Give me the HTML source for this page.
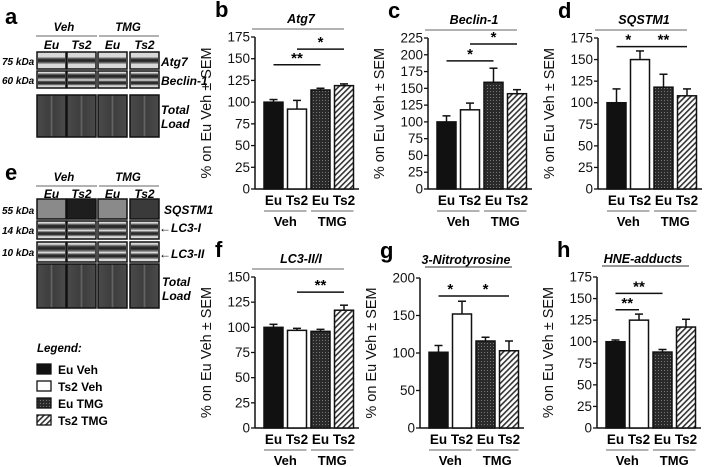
<!DOCTYPE html>
<html><head><meta charset="utf-8"><style>
html,body{margin:0;padding:0;background:#fff;}
svg{display:block;font-family:"Liberation Sans",Arial,sans-serif;}
</style></head><body>
<svg id="fig" width="708" height="467" viewBox="0 0 708 467" xmlns="http://www.w3.org/2000/svg">
<defs>
<pattern id="dots" width="3" height="3" patternUnits="userSpaceOnUse"><rect width="3" height="3" fill="#2a2a2a"/><rect x="1" y="1" width="1" height="1" fill="#777"/></pattern>
<pattern id="hatch" width="4" height="4" patternUnits="userSpaceOnUse" patternTransform="rotate(45)"><rect width="4" height="4" fill="#fff"/><rect width="1.6" height="4" fill="#333"/></pattern>
<linearGradient id="lane" x1="0" x2="1" y1="0" y2="0"><stop offset="0" stop-color="#4a4a4a"/><stop offset="0.45" stop-color="#3e3e3e"/><stop offset="0.5" stop-color="#6a6a6a"/><stop offset="0.55" stop-color="#3e3e3e"/><stop offset="1" stop-color="#4a4a4a"/></linearGradient>
<linearGradient id="band" x1="0" x2="0" y1="0" y2="1"><stop offset="0" stop-color="#bbb"/><stop offset="0.3" stop-color="#333"/><stop offset="0.6" stop-color="#222"/><stop offset="1" stop-color="#aaa"/></linearGradient>
</defs>
<g id="blots"></g>
<g id="charts"></g>
</svg>
<script>
// ---- chart data ----
const groups = ["Eu Veh","Ts2 Veh","Eu TMG","Ts2 TMG"];
const atg7Values = [100, 92, 114, 119];
const atg7Errors = [3, 10, 2, 2];
const beclinValues = [100, 118, 159, 142];
const beclinErrors = [9, 10, 21, 6];
const sqstmValues = [100, 150, 118, 108];
const sqstmErrors = [16, 10, 15, 8];
const lc3Values = [100, 97, 96, 117];
const lc3Errors = [3, 2, 2, 5];
const nitroValues = [101, 152, 116, 103];
const nitroErrors = [9, 17, 5, 13];
const hneValues = [100, 125, 88, 117];
const hneErrors = [2, 7, 3, 9];
const ticks175 = [0,25,50,75,100,125,150,175];
const ticks225 = [0,25,50,75,100,125,150,175,200,225];
const ticks150 = [0,25,50,75,100,125,150];
const ticks200 = [0,50,100,150,200];
const sigB = [[0,2,143,"**"],[1,3,161,"*"]];
const sigC = [[0,2,191,"*"],[1,3,216,"*"]];
const sigD = [[0,1,165,"*"],[1,3,165,"**"]];
const sigF = [[1,3,135,"**"]];
const sigG = [[0,1,176,"*"],[1,3,176,"*"]];
const sigH = [[0,1,137,"**"],[0,2,156,"**"]];

const NS="http://www.w3.org/2000/svg";
function mk(tag, attrs, parent, text){
  const e=document.createElementNS(NS,tag);
  for(const k in attrs) e.setAttribute(k, attrs[k]);
  if(text!==undefined) e.textContent=text;
  parent.appendChild(e); return e;
}
const fills=["#111","#fff","url(#dots)","url(#hatch)"];

function panel(letter, title, underlineTitle, ax, yTop, y0, ticks, vals, errs, sigs, name){
  const root=document.getElementById('charts');
  const g=mk('g',{},root);
  
  
  const max=ticks[ticks.length-1];
  const y=v=>y0-(v/max)*(y0-yTop);
  const bx=i=>ax+9+i*23.5;
  const bw=19;
  const L=mk('text',{x:ax-40,y:yTop-20,'font-size':22,'font-weight':'bold'},g,letter);
  
  
  const T=mk('text',{x:ax+46,y:yTop-14,'font-size':12.5,'font-weight':'bold','font-style':'italic','text-anchor':'middle'},g,title);
  
  
  if(underlineTitle){ mk('line',{x1:ax+5,x2:ax+92,y1:yTop-11,y2:yTop-11,stroke:'#333','stroke-width':1},g); }
  else { mk('line',{x1:ax-3,x2:ax+89,y1:yTop-8,y2:yTop-8,stroke:'#666','stroke-width':1},g); }
  const A=mk('line',{x1:ax,x2:ax,y1:yTop,y2:y0,stroke:'#111','stroke-width':1.5},g);
  
  
  mk('line',{x1:ax,x2:ax+104,y1:y0,y2:y0,stroke:'#111','stroke-width':1.5},g);
  ticks.forEach(t=>{
    mk('line',{x1:ax-4,x2:ax,y1:y(t),y2:y(t),stroke:'#111','stroke-width':1.3},g);
    const tl=mk('text',{x:ax-5,y:y(t)+4.5,'font-size':13.5,'text-anchor':'end',fill:'#111'},g,String(t));
    
    
  });
  const yt=mk('text',{transform:`translate(${ax-44},${(yTop+y0)/2}) rotate(-90)`,'font-size':14.5,'text-anchor':'middle',fill:'#111'},g,'% on Eu Veh \u00b1 SEM');
  
  
  vals.forEach((v,i)=>{
    const cx=bx(i)+bw/2;
    mk('line',{x1:cx,x2:cx,y1:y(v),y2:y(v+errs[i]),stroke:'#111','stroke-width':1.5},g);
    mk('line',{x1:cx-4,x2:cx+4,y1:y(v+errs[i]),y2:y(v+errs[i]),stroke:'#111','stroke-width':1.5},g);
    const b=mk('rect',{x:bx(i),y:y(v),width:bw,height:y0-y(v),fill:fills[i],stroke:'#111','stroke-width':1.5},g);
    
    
  });
  sigs.forEach(s=>{
    const x1=bx(s[0])+bw/2, x2=bx(s[1])+bw/2, yy=y(s[2]);
    mk('line',{x1:x1,x2:x2,y1:yy,y2:yy,stroke:'#111','stroke-width':1.5},g);
    const st=mk('text',{x:(x1+x2)/2,y:yy-2,'font-size':15,'font-weight':'bold','text-anchor':'middle'},g,s[3]);
    
    
  });
  const xl=["Eu","Ts2","Eu","Ts2"];
  xl.forEach((t,i)=>{
    const e=mk('text',{x:bx(i)+bw/2,y:y0+16,'font-size':13.5,'font-weight':'bold','text-anchor':'middle'},g,t);
    
    
  });
  mk('line',{x1:bx(0),x2:bx(1)+bw,y1:y0+22,y2:y0+22,stroke:'#666','stroke-width':1},g);
  mk('line',{x1:bx(2),x2:bx(3)+bw,y1:y0+22,y2:y0+22,stroke:'#666','stroke-width':1},g);
  const g1=mk('text',{x:(bx(0)+bx(1)+bw)/2,y:y0+37,'font-size':13,'font-weight':'bold','text-anchor':'middle'},g,'Veh');
  
  
  const g2=mk('text',{x:(bx(2)+bx(3)+bw)/2,y:y0+37,'font-size':13,'font-weight':'bold','text-anchor':'middle'},g,'TMG');
  
  
}
panel('b','Atg7',false,255,37,189,ticks175,atg7Values,atg7Errors,sigB,'atg7');
panel('c','Beclin-1',false,428,38,189,ticks225,beclinValues,beclinErrors,sigC,'beclin-1');
panel('d','SQSTM1',false,598,38,189,ticks175,sqstmValues,sqstmErrors,sigD,'sqstm1');
panel('f','LC3-II/I',false,255,277,428,ticks150,lc3Values,lc3Errors,sigF,'lc3');
panel('g','3-Nitrotyrosine',true,420,278,428,ticks200,nitroValues,nitroErrors,sigG,'nitrotyrosine');
panel('h','HNE-adducts',true,597,277,428,ticks175,hneValues,hneErrors,sigH,'hne-adducts');

// ---- blots ----
const B=document.getElementById('blots');
const lanesX=[37,67,98,130]; const laneW=29;
function blotRow(y1,h,type,g){
  lanesX.forEach((x,i)=>{
    let f='#d8d8d8';
    if(type==='load') f='url(#lane)';
    if(type==='sq') f=(i===1?'#1e1e1e':(i===3?'#3a3a3a':'#8a8a8a'));
    mk('rect',{x:x,y:y1,width:laneW,height:h,fill:f,stroke:'#111','stroke-width':1.5},g);
    if(type==='band'){ mk('rect',{x:x+1,y:y1+h*0.3,width:laneW-2,height:h*0.4,fill:'url(#band)'},g); }
    if(type==='band2'){ mk('rect',{x:x+1,y:y1+h*0.12,width:laneW-2,height:h*0.38,fill:'url(#band)'},g); mk('rect',{x:x+1,y:y1+h*0.55,width:laneW-2,height:h*0.3,fill:'url(#band)'},g); }
  });
}
function txt(x,y,s,size,anchor,name,style){
  const e=mk('text',{x:x,y:y,'font-size':size,'font-weight':'bold','font-style':style||'italic','text-anchor':anchor||'start'},B,s);
  
  
  return e;
}
function header(yv,yl,ye){
  txt(64,yv,'Veh',11.5,'middle','header-veh');
  txt(128,yv,'TMG',11.5,'middle','header-tmg');
  mk('line',{x1:36,x2:97,y1:yl,y2:yl,stroke:'#666'},B);
  mk('line',{x1:99,x2:159,y1:yl,y2:yl,stroke:'#666'},B);
  ['Eu','Ts2','Eu','Ts2'].forEach((s,i)=>txt(lanesX[i]+laneW/2,ye,s,12,'middle','lane-label'));
}
txt(5,24,'a',22,'start','panel-letter-a','normal');
header(31,36,49);
blotRow(52,17,'band',B); blotRow(71,17,'band2',B); blotRow(95,42,'load',B);
txt(2,65,'75 kDa',10,'start','mw-75kda'); txt(2,84,'60 kDa',10,'start','mw-60kda');
txt(161,66,'Atg7',12,'start','label-atg7'); txt(161,85,'Beclin-1',12,'start','label-beclin-1');
txt(161,114,'Total',12,'start','label-total'); txt(161,128,'Load',12,'start','label-load');

txt(5,180,'e',22,'start','panel-letter-e','normal');
header(181,186,198);
blotRow(199,20,'sq',B); blotRow(221,18,'band2',B); blotRow(242,20,'band2',B); blotRow(264,44,'load',B);
txt(2,214,'55 kDa',10,'start','mw-55kda'); txt(2,234,'14 kDa',10,'start','mw-14kda'); txt(2,256,'10 kDa',10,'start','mw-10kda');
txt(164,214,'SQSTM1',12,'start','label-sqstm1'); txt(159,232,'\u2190LC3-I',12,'start','label-lc3-i'); txt(159,258,'\u2190LC3-II',12,'start','label-lc3-ii');
txt(162,286,'Total',12,'start','label-total-e'); txt(162,300,'Load',12,'start','label-load-e');

// legend
txt(37,352,'Legend:',11.5,'start','legend-title');
groups.forEach((gname,i)=>{
  const yy=364+i*17;
  const r=mk('rect',{x:37,y:yy,width:14,height:10,fill:fills[i],stroke:'#111','stroke-width':1.3},B);
  
  
  txt(58,yy+10,gname,12,'start','legend-entry','normal');
});
</script>
</body></html>
